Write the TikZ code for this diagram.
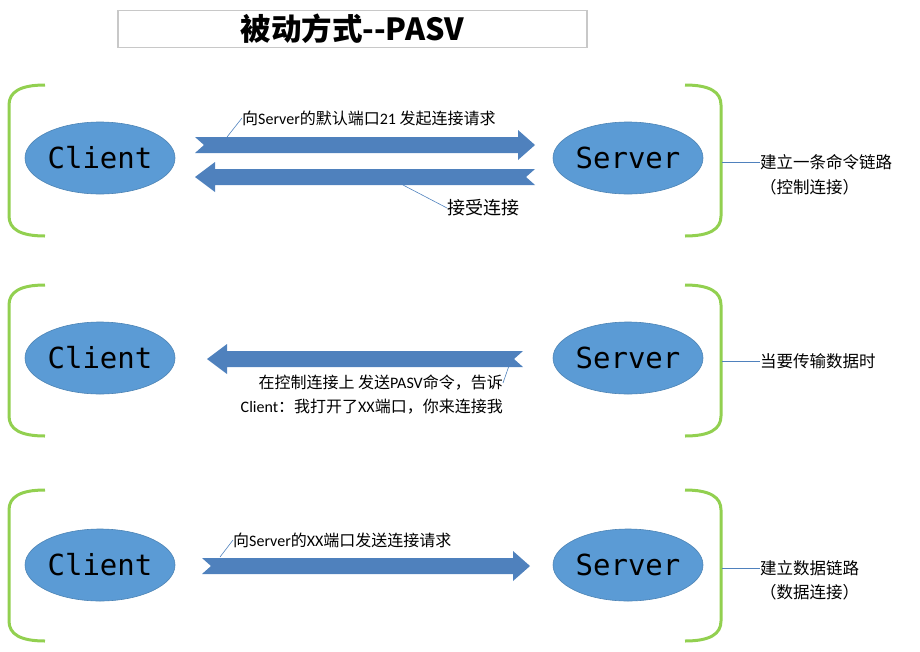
\documentclass[tikz,border=0pt]{standalone}
\usepackage{fontspec}
\usepackage{tikz}
\usetikzlibrary{shapes.geometric}
\newfontfamily\cjk{Noto Sans CJK SC}
\newfontfamily\lat{Carlito}
\newfontfamily\mono{DejaVu Sans Mono}
\definecolor{hostblue}{HTML}{5B9BD5}
\definecolor{arrowblue}{HTML}{4F81BD}
\definecolor{bracketgreen}{HTML}{92D050}
\definecolor{titlegray}{HTML}{C8C8C8}

% 块箭头：起点 x，终点 x，中心 y
\newcommand{\blockright}[3]{%
  \fill[arrowblue] (#1,#3-8) -- (#2-17,#3-8) -- (#2-17,#3-15) -- (#2,#3)
    -- (#2-17,#3+15) -- (#2-17,#3+8) -- (#1,#3+8) -- (#1+9,#3) -- cycle;}
\newcommand{\blockleft}[3]{%
  \fill[arrowblue] (#1,#3) -- (#1+20,#3-15) -- (#1+20,#3-8) -- (#2,#3-8)
    -- (#2-9,#3) -- (#2,#3+8) -- (#1+20,#3+8) -- (#1+20,#3+15) -- cycle;}

\begin{document}
\begin{tikzpicture}[x=1pt, y=-1pt,
  host/.style={ellipse, fill=hostblue, draw=hostblue!85!black, line width=0.6pt,
    minimum width=150pt, minimum height=72pt, inner sep=0pt,
    font=\mono\fontsize{29}{29}\selectfont},
  note/.style={font=\cjk\fontsize{16}{18}\selectfont, inner sep=0pt},
  side/.style={font=\cjk\fontsize{16.5}{20}\selectfont, inner sep=0pt, anchor=west},
  callout/.style={draw=arrowblue, line width=0.6pt},
  bracket/.style={draw=bracketgreen, line width=3pt}]

  \useasboundingbox (0,0) rectangle (920,651);

  % 标题
  \node[draw=titlegray, line width=1.2pt, minimum width=469pt, minimum height=36pt,
    font=\cjk\bfseries\fontsize{30.5}{30}\selectfont] (title) at (352.5,29)
    {被动方式--PASV};

  % 括号
  \foreach \t in {85,285,490} {
    \draw[bracket] (45,\t) .. controls (20,\t) and (9,\t+7) .. (9,\t+20)
      -- (9,\t+131) .. controls (9,\t+144) and (20,\t+151) .. (45,\t+151);
    \draw[bracket] (685,\t) .. controls (710,\t) and (721,\t+7) .. (721,\t+20)
      -- (721,\t+131) .. controls (721,\t+144) and (710,\t+151) .. (685,\t+151);
  }

  % 主机
  \node[host] (client1) at (100,158) {Client};
  \node[host] (server1) at (628,158) {Server};
  \node[host] (client2) at (100,358) {Client};
  \node[host] (server2) at (628,358) {Server};
  \node[host] (client3) at (100,565) {Client};
  \node[host] (server3) at (628,565) {Server};

  % 第一步：命令链路
  \blockright{195}{535}{145}
  \blockleft{195}{535}{177}
  \node[note, anchor=west] (req1) at (242,118) {向{\lat Server}的默认端口{\lat 21} 发起连接请求};
  \coordinate (req1tail) at (227,137);
  \draw[callout] (req1tail) -- (req1.west);
  \node[note, font=\cjk\fontsize{18}{20}\selectfont, anchor=west] (accept) at (447,208) {接受连接};
  \coordinate (accepttail) at (403,185);
  \draw[callout] (accepttail) -- (accept.west);
  \node[side] (cmd) at (760,162) {建立一条命令链路};
  \node[side] (ctl) at (760,187) {（控制连接）};
  \coordinate (brace1) at (722,162);
  \draw[callout] (brace1) -- (cmd.west);

  % 第二步：PASV 命令
  \blockleft{207}{523}{359}
  \node[note, anchor=east] (pasv1) at (503,383) {在控制连接上 发送{\lat PASV}命令，告诉};
  \node[note, anchor=east] (pasv2) at (503,407) {{\lat Client}：我打开了{\lat XX}端口，你来连接我};
  \coordinate (pasvtail) at (512,357);
  \draw[callout] (pasvtail) -- (pasv1.east);
  \node[side] (when) at (760,361) {当要传输数据时};
  \coordinate (brace2) at (722,361);
  \draw[callout] (brace2) -- (when.west);

  % 第三步：数据链路
  \blockright{202}{530}{566}
  \node[note, anchor=west] (req2) at (233,540) {向{\lat Server}的{\lat XX}端口发送连接请求};
  \coordinate (req2tail) at (220,557);
  \draw[callout] (req2tail) -- (req2.west);
  \node[side] (data) at (760,568) {建立数据链路};
  \node[side] (dat) at (760,592) {（数据连接）};
  \coordinate (brace3) at (722,568);
  \draw[callout] (brace3) -- (data.west);
\end{tikzpicture}
\end{document}
